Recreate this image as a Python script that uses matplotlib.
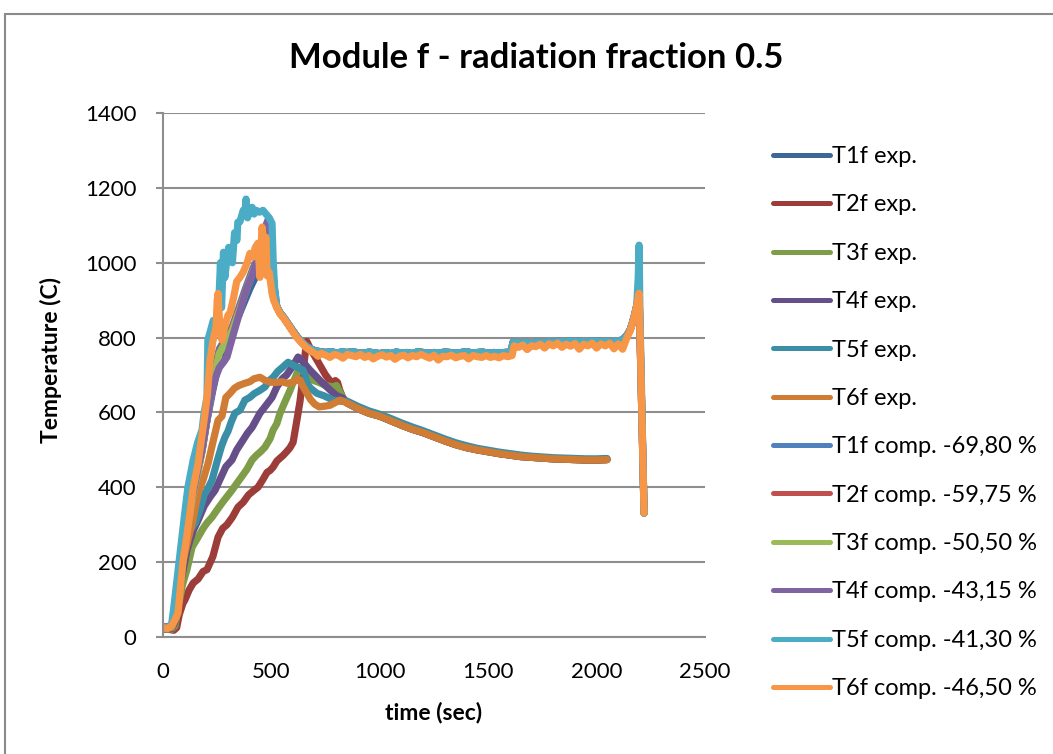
import numpy as np
import matplotlib
matplotlib.use("Agg")
import matplotlib.pyplot as plt
from matplotlib.lines import Line2D
from matplotlib.patches import Rectangle

plt.rcParams['font.family'] = ['Lato', 'DejaVu Sans']

# ---------------- measured thermocouples (exp.) ----------------
t1_exp_time = [0, 40, 60, 80, 100, 124, 150, 180, 200, 230, 260, 300, 350, 400, 450, 490, 510]
t1_exp_temp = [25, 30, 80, 175, 270, 340, 420, 500, 570, 660, 740, 800, 860, 930, 990, 1040, 950]

t2_exp_time = [0, 30, 50, 63, 75, 92, 101, 120, 139, 162, 185, 203, 230, 254, 275, 295, 320, 346,
               370, 395, 420, 438, 460, 480, 494, 508, 525, 540, 554, 570, 585, 600, 612, 623,
               632, 640, 650, 663, 680, 695, 710, 730, 750, 770, 785, 795, 805, 815, 830]
t2_exp_temp = [22, 20, 18, 25, 60, 90, 99, 125, 144, 155, 175, 180, 215, 267, 290, 300, 320, 347,
               360, 380, 392, 400, 420, 440, 445, 454, 470, 478, 485, 495, 505, 520, 560, 598,
               630, 668, 730, 790, 770, 755, 740, 720, 700, 685, 678, 685, 680, 660, 638]

t3_exp_time = [0, 40, 55, 70, 90, 110, 134, 160, 185, 203, 226, 250, 275, 295, 318, 340, 365,
               387, 411, 430, 450, 470, 494, 508, 525, 540, 560, 586, 600, 618, 632, 645, 660,
               692, 720, 750, 785, 800, 815, 830]
t3_exp_temp = [22, 20, 30, 80, 140, 179, 240, 265, 290, 305, 320, 340, 360, 375, 392, 410, 430,
               448, 473, 485, 495, 507, 530, 553, 570, 598, 625, 659, 680, 704, 721, 712, 700,
               686, 680, 672, 668, 672, 655, 638]

t4_exp_time = [0, 40, 55, 70, 90, 110, 125, 140, 162, 190, 217, 240, 270, 290, 318, 340, 369,
               390, 411, 430, 447, 470, 503, 525, 550, 570, 586, 605, 623, 640, 660, 678, 700,
               725, 756, 780, 800, 830]
t4_exp_temp = [22, 22, 40, 100, 170, 230, 260, 285, 312, 350, 374, 392, 430, 455, 473, 500, 526,
               545, 560, 580, 598, 615, 640, 668, 690, 700, 713, 730, 748, 740, 725, 713, 700,
               685, 668, 655, 645, 638]

t5_exp_time = [0, 40, 55, 70, 90, 110, 130, 148, 170, 190, 210, 226, 250, 270, 286, 300, 315,
               332, 355, 378, 400, 420, 447, 470, 490, 508, 530, 550, 577, 595, 618, 646, 655,
               664, 680, 710, 740, 785, 820]
t5_exp_temp = [25, 25, 60, 140, 220, 270, 290, 304, 340, 380, 400, 419, 470, 510, 534, 550, 575,
               598, 606, 633, 640, 650, 659, 668, 685, 694, 710, 720, 734, 728, 721, 713, 700,
               678, 665, 651, 645, 633, 630]

t6_exp_time = [0, 40, 55, 70, 85, 101, 120, 138, 150, 162, 185, 208, 230, 254, 272, 290, 309,
               330, 350, 378, 400, 420, 447, 470, 494, 520, 550, 572, 600, 620, 632, 645, 664,
               680, 700, 720, 750, 770, 790, 816]
t6_exp_temp = [25, 25, 50, 120, 180, 224, 270, 312, 350, 384, 420, 464, 520, 579, 590, 640, 651,
               665, 672, 678, 682, 690, 694, 686, 681, 680, 682, 678, 680, 690, 686, 670, 651,
               635, 622, 615, 617, 619, 625, 633]

# common cooling branch of the measured curves
decay_time = [850, 900, 950, 1000, 1050, 1100, 1150, 1200, 1250, 1300, 1350, 1400, 1450,
              1500, 1550, 1600, 1650, 1700, 1750, 1800, 1850, 1900, 1950, 2000, 2048]
decay_temp = [625, 610, 598, 590, 578, 566, 555, 546, 535, 524, 514, 506, 500,
              495, 490, 486, 482, 480, 478, 476, 475, 474, 473, 473, 474]
t5_decay_temp = [630, 616, 604, 595, 584, 572, 561, 551, 540, 529, 519, 511, 504,
                 499, 494, 490, 486, 483, 481, 479, 478, 477, 476, 476, 477]

# ---------------- computed curves (comp.) ----------------
comp_head_time = [0, 40, 60, 80, 100, 124, 150, 180, 200, 220, 240, 260, 280, 300, 320, 350,
                  380, 415, 440, 460, 480, 495, 505, 515]
t1_comp_temp = [25, 30, 72, 165, 262, 335, 415, 500, 575, 650, 720, 770, 790, 810, 830, 880,
                930, 985, 1015, 1040, 1060, 1050, 990, 905]
t2_comp_temp = [25, 29, 70, 160, 258, 332, 412, 497, 572, 645, 712, 762, 782, 802, 825, 872,
                924, 978, 1008, 1035, 1055, 1045, 985, 900]
t3_comp_temp = [25, 28, 68, 158, 255, 330, 410, 495, 570, 642, 708, 758, 778, 798, 820, 868,
                920, 975, 1005, 1030, 1050, 1040, 980, 898]
t4_comp_time = [0, 40, 60, 80, 100, 124, 150, 180, 200, 220, 240, 260, 280, 295, 320, 350, 380,
                415, 440, 460, 475, 485, 495, 505, 515]
t4_comp_temp = [25, 30, 75, 170, 270, 340, 420, 500, 570, 640, 690, 720, 735, 748, 800, 860, 920,
                972, 1010, 1060, 1100, 1115, 1080, 1000, 910]
t5_comp_time = [0, 20, 40, 50, 60, 80, 100, 115, 139, 160, 180, 190, 203, 207, 215, 232, 240,
                255, 265, 270, 279, 285, 295, 303, 309, 320, 330, 341, 345, 355, 370, 378, 383,
                390, 400, 411, 420, 430, 445, 461, 475, 490, 503, 508, 515]
t5_comp_temp = [25, 24, 35, 80, 130, 230, 330, 400, 472, 520, 553, 600, 641, 793, 810, 846, 830,
                860, 1000, 880, 1028, 960, 1010, 1041, 1030, 1000, 1080, 1060, 1108, 1110, 1140, 1130, 1170,
                1120, 1145, 1148, 1130, 1140, 1135, 1140, 1130, 1120, 1105, 1007, 930]
t6_comp_time = [0, 20, 40, 55, 69, 80, 93, 110, 124, 140, 162, 180, 194, 205, 217, 230, 245,
                250, 254, 260, 272, 285, 300, 309, 325, 340, 355, 370, 387, 401, 415, 425, 438,
                447, 452, 457, 465, 475, 480, 490, 503, 510]
t6_comp_temp = [25, 22, 30, 45, 64, 130, 205, 270, 331, 400, 464, 540, 598, 650, 740, 790, 830,
                900, 918, 850, 793, 830, 860, 865, 905, 950, 961, 975, 998, 1025, 1015, 1040, 1052,
                961, 1040, 1095, 1050, 1068, 965, 975, 918, 900]

# common plateau of the computed curves
plateau_time = [525, 540, 560, 580, 600, 620, 640, 660, 680, 700, 725, 750, 775, 800, 825, 850,
                875, 900, 925, 950, 975, 1000, 1025, 1050, 1075, 1100, 1125, 1150, 1175, 1200,
                1225, 1250, 1275, 1300, 1325, 1350, 1375, 1400, 1425, 1450, 1475, 1500, 1525,
                1550, 1575, 1605, 1615, 1625, 1650, 1675, 1700, 1725, 1750, 1775, 1800, 1825,
                1850, 1875, 1900, 1925, 1950, 1975, 2000, 2025, 2050, 2075, 2100, 2120, 2140,
                2155, 2165, 2175, 2185]
plateau_temp = [882, 866, 851, 834, 817, 801, 788, 777, 770, 765, 762, 760, 762, 759, 761, 760,
                762, 759, 758, 761, 759, 757, 760, 757, 761, 759, 760, 757, 762, 760,
                758, 760, 759, 761, 760, 758, 760, 762, 759, 760, 761, 758, 760,
                759, 760, 761, 788, 787, 785, 787, 784, 788, 786, 789, 787, 790,
                788, 791, 789, 790, 788, 791, 790, 789, 791, 788, 791, 794, 806,
                821, 839, 860, 885]
t6_plateau_time = [525, 540, 560, 580, 600, 620, 640, 660, 680, 700, 715, 730, 750, 770, 790,
                   810, 830, 850, 870, 890, 910, 930, 950, 970, 990, 1010, 1030, 1050, 1070,
                   1090, 1110, 1130, 1150, 1170, 1190, 1210, 1230, 1250, 1270, 1290, 1310, 1330,
                   1350, 1370, 1390, 1410, 1430, 1450, 1470, 1490, 1510, 1530, 1550, 1570, 1590,
                   1610, 1620, 1640, 1660, 1680, 1700, 1720, 1740, 1760, 1780, 1800, 1820, 1840,
                   1860, 1880, 1900, 1920, 1940, 1960, 1980, 2000, 2020, 2040, 2060, 2080, 2100,
                   2120, 2140, 2155, 2165, 2175, 2185]
t6_plateau_temp = [880, 863, 849, 832, 814, 798, 785, 773, 765, 758, 750, 758, 753, 747, 755,
                   752, 745, 755, 752, 749, 755, 747, 752, 743, 750, 754, 748, 752, 742,
                   750, 753, 746, 752, 749, 755, 750, 745, 753, 740, 750, 749, 753,
                   746, 750, 752, 743, 752, 749, 747, 752, 747, 750, 746, 752, 749,
                   752, 778, 774, 780, 768, 778, 776, 782, 772, 783, 778, 785, 774,
                   782, 777, 784, 769, 782, 778, 785, 772, 783, 778, 785, 770, 783,
                   769, 800, 818, 838, 858, 885]

# final flare and shutdown
end_time = [2196, 2219]
end_temp = [918, 331]
t5_end_time = [2192, 2196, 2200, 2219]
t5_end_temp = [960, 1047, 860, 331]

exp_labels = ["T1f exp.", "T2f exp.", "T3f exp.", "T4f exp.", "T5f exp.", "T6f exp."]
comp_labels = ["T1f comp. -69,80 %", "T2f comp. -59,75 %", "T3f comp. -50,50 %",
               "T4f comp. -43,15 %", "T5f comp. -41,30 %", "T6f comp. -46,50 %"]
exp_colors = ["#3D6799", "#9C3D3A", "#7F9D48", "#664E88", "#3A8FA7", "#D07C35"]
comp_colors = ["#4F81BD", "#C0504D", "#9BBB59", "#8064A2", "#4BACC6", "#F79646"]

x_ticks = [0, 500, 1000, 1500, 2000, 2500]
y_ticks = [0, 200, 400, 600, 800, 1000, 1200, 1400]

# ---------------- assemble series ----------------
plateau_time_a = np.array(plateau_time)
plateau_temp_a = np.array(plateau_temp)
keep = plateau_time_a <= 2048

exp_series = [
    (t1_exp_time + list(plateau_time_a[keep]), t1_exp_temp + list(plateau_temp_a[keep])),
    (t2_exp_time + decay_time, t2_exp_temp + decay_temp),
    (t3_exp_time + decay_time, t3_exp_temp + decay_temp),
    (t4_exp_time + decay_time, t4_exp_temp + decay_temp),
    (t5_exp_time + decay_time, t5_exp_temp + t5_decay_temp),
    (t6_exp_time + decay_time, t6_exp_temp + decay_temp),
]
comp_series = [
    (comp_head_time + plateau_time + end_time, t1_comp_temp + plateau_temp + end_temp),
    (comp_head_time + plateau_time + end_time, t2_comp_temp + plateau_temp + end_temp),
    (comp_head_time + plateau_time + end_time, t3_comp_temp + plateau_temp + end_temp),
    (t4_comp_time + plateau_time + end_time, t4_comp_temp + plateau_temp + end_temp),
    (t5_comp_time + plateau_time + t5_end_time, t5_comp_temp + plateau_temp + t5_end_temp),
    (t6_comp_time + t6_plateau_time + end_time, t6_comp_temp + t6_plateau_temp + end_temp),
]

# ---------------- figure ----------------
W, H = 1053, 754
fig = plt.figure(figsize=(W / 100, H / 100), dpi=100)
fig.patches.append(Rectangle((5 / W, -0.05), 1.2, 1 - 14 / H + 0.05, transform=fig.transFigure,
                             fill=False, edgecolor="#8a8a8a", linewidth=1.5))

ax = fig.add_axes([163 / W, 1 - 637 / H, (705 - 163) / W, (637 - 113) / H])

lw = 5.2
handles = []
for (t, T), c, lab in zip(exp_series, exp_colors, exp_labels):
    ax.plot(t, T, color=c, lw=lw, solid_capstyle="round", solid_joinstyle="round")
    handles.append(Line2D([], [], color=c, lw=3.6, solid_capstyle="round", label=lab))
for (t, T), c, lab in zip(comp_series, comp_colors, comp_labels):
    ax.plot(t, T, color=c, lw=lw, solid_capstyle="round", solid_joinstyle="round")
    handles.append(Line2D([], [], color=c, lw=3.6, solid_capstyle="round", label=lab))

ax.set_xlim(0, 2500)
ax.set_ylim(0, 1400)
ax.set_xticks(x_ticks)
ax.set_yticks(y_ticks)
ax.grid(axis="y", color="#8e8e8e", lw=1.5)
ax.set_axisbelow(True)
for s in ["top", "right"]:
    ax.spines[s].set_visible(False)
for s in ["left", "bottom"]:
    ax.spines[s].set_color("#8e8e8e")
    ax.spines[s].set_linewidth(1.5)
ax.tick_params(axis="y", length=5, width=1.5, color="#8e8e8e", labelsize=16, pad=14)
ax.tick_params(axis="x", length=0, labelsize=16, pad=18)

ax.set_xlabel("time (sec)", fontsize=16.5, fontweight="bold", labelpad=14)
ax.set_ylabel("Temperature (C)", fontsize=16.5, fontweight="bold")
ax.yaxis.set_label_coords((62 - 163) / 542, (637 - 360) / 524)
fig.text(536 / W, 1 - 58 / H, "Module f - radiation fraction 0.5", ha="center", va="center",
         fontsize=25, fontweight="bold")

fig.legend(handles=handles, loc="upper left", bbox_to_anchor=(773 / W, 1 - 146 / H),
           frameon=False, fontsize=17, handlelength=2.42, handletextpad=0.1, labelspacing=1.16,
           borderpad=0, borderaxespad=0)

fig.savefig("out.png", dpi=100)
